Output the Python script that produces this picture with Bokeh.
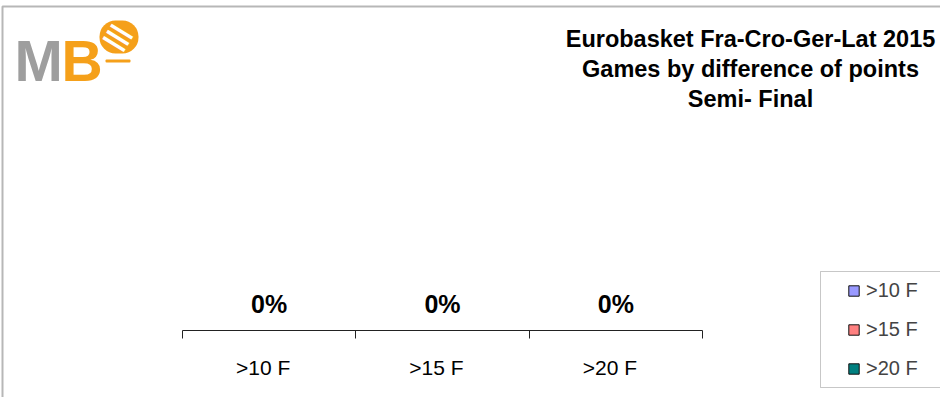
from bokeh.plotting import figure
from bokeh.models import (Range1d, FixedTicker, LinearAxis, ColumnDataSource, LabelSet, Label,
                          BoxAnnotation, Legend, LegendItem)
from bokeh.core.properties import value
from bokeh.embed import file_html
from bokeh.resources import INLINE

# ---- data ----
categories = [">10 F", ">15 F", ">20 F"]
values = [0, 0, 0]  # percent of games
colors = ["#9999FF", "#FF8080", "#008080"]
title_lines = ["Eurobasket Fra-Cro-Ger-Lat 2015", "Games by difference of points", "Semi- Final"]

# ---- layout (canvas pixels) ----
W, H = 940, 397
AX_L, AX_R = 182, 702      # axis extent
AX_Y, PLOT_TOP = 330, 110  # axis line y, top of value area
LABEL_SHIFT_PX = -6        # category labels sit slightly left of centre
FONT = "Liberation Sans"
ORANGE = "#F5A01A"

n = len(categories)
px_per_cat = (AX_R - AX_L) / n
px_per_pct = (AX_Y - PLOT_TOP) / 100.0

xs = [i + 0.5 for i in range(n)]
label_ticks = [x + LABEL_SHIFT_PX / px_per_cat for x in xs]
source = ColumnDataSource(dict(x=xs, top=values, cat=categories, color=colors,
                               lbl=[f"{v:.0f}%" for v in values]))

p = figure(width=W, height=H, output_backend="svg", toolbar_location=None,
           x_range=Range1d(-AX_L / px_per_cat, n + (W - AX_R) / px_per_cat),
           y_range=Range1d(-(H - AX_Y) / px_per_pct, AX_Y / px_per_pct),
           x_axis_location=None, y_axis_location=None, min_border=0)
p.outline_line_color = None
p.background_fill_color = "white"
p.border_fill_color = "white"
p.xgrid.visible = False
p.ygrid.visible = False

ax = LinearAxis(
    fixed_location=0, bounds=(0, n),
    ticker=FixedTicker(ticks=label_ticks, minor_ticks=list(range(n + 1))),
    major_label_overrides={t: c for t, c in zip(label_ticks, categories)},
    major_tick_line_color=None, major_tick_out=0, major_tick_in=0,
    minor_tick_out=8, minor_tick_in=0, minor_tick_line_color="#222222",
    axis_line_color="#222222", major_label_standoff=17,
    major_label_text_font=FONT, major_label_text_font_size="21px",
    major_label_text_color="black")
p.add_layout(ax, "below")

r = p.vbar(x="x", top="top", bottom=0, width=0.6, fill_color="color",
           line_color="#111111", line_width=1, source=source)

p.add_layout(LabelSet(x="x", y="top", text="lbl", source=source, y_offset=18,
                      text_align="center", text_baseline="alphabetic",
                      text_font=value(FONT), text_font_style="bold",
                      text_font_size="25px", text_color="black"))

legend = Legend(items=[LegendItem(label=c, renderers=[r], index=i) for i, c in enumerate(categories)],
                location=(847, H - 380), orientation="vertical", padding=0, spacing=16,
                glyph_width=13, glyph_height=13, label_height=22, label_standoff=6,
                label_text_font=FONT, label_text_font_size="20px",
                border_line_alpha=0, background_fill_alpha=0, margin=0)
p.add_layout(legend)


def cbox(left, right, top, bottom, **kw):
    return BoxAnnotation(left=left, right=right, top=top, bottom=bottom,
                         left_units="canvas", right_units="canvas",
                         top_units="canvas", bottom_units="canvas", **kw)


# legend frame
p.add_layout(cbox(820, 1100, 271, 387, fill_color=None, line_color="#444444", line_width=1))
# chart border
p.add_layout(cbox(2, W + 200, 6, H + 200, fill_color=None, line_color="#111111", line_width=2))

# title
for i, t in enumerate(title_lines):
    p.add_layout(Label(x=750, y=38 + 30 * i, x_units="canvas", y_units="canvas", text=t,
                       text_align="center", text_baseline="alphabetic",
                       text_font=FONT, text_font_style="bold", text_font_size="23.5px",
                       text_color="black"))

# logo
p.add_layout(Label(x=14, y=60, x_units="canvas", y_units="canvas", text="M",
                   text_align="left", text_baseline="alphabetic", text_font=FONT,
                   text_font_style="bold", text_font_size="58px", text_color="#9E9E9E"))
p.add_layout(Label(x=61, y=60, x_units="canvas", y_units="canvas", text="B",
                   text_align="left", text_baseline="alphabetic", text_font=FONT,
                   text_font_style="bold", text_font_size="57px", text_color=ORANGE))
p.add_layout(cbox(99, 138, 20, 53, border_radius=16, fill_color=ORANGE, fill_alpha=1,
                  line_color=None))
p.add_layout(Label(x=118, y=36, x_units="canvas", y_units="canvas", text="≡",
                   text_align="center", text_baseline="middle", text_font="DejaVu Sans",
                   text_font_size="40px", text_color="white", angle=-0.55))
p.add_layout(cbox(105, 130, 59, 62, border_radius=1, fill_color=ORANGE, fill_alpha=1,
                  line_color=None))

open("out.html", "w").write(file_html(p, INLINE))
